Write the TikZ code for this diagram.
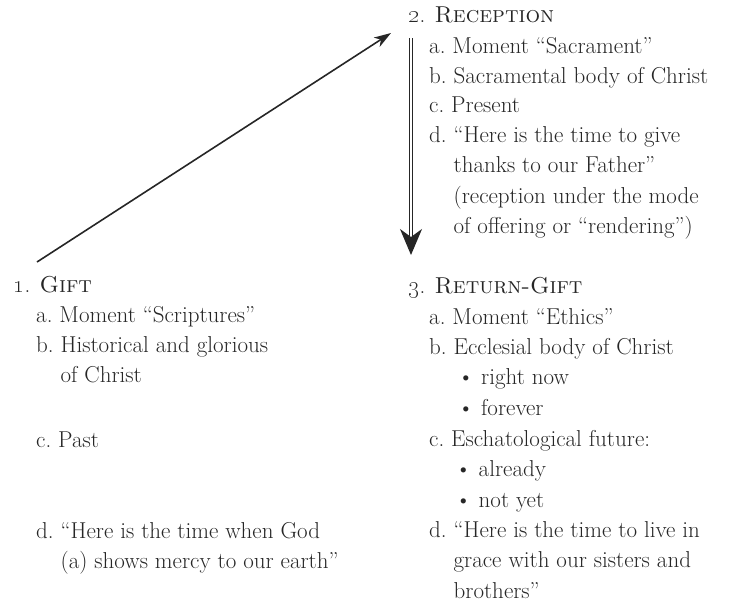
\documentclass[tikz,border=0pt]{standalone}
\usetikzlibrary{arrows.meta}
\definecolor{inkgray}{gray}{0.15}
\newcommand{\itm}[2]{#1~\begin{tabular}[t]{@{}l@{}}#2\end{tabular}}
\newcommand{\bul}{\hspace{4pt}\textbullet~}
\begin{document}
\begin{tikzpicture}[x=1pt, y=-1pt,
    txt/.style={anchor=base west, inner sep=0pt, text=inkgray,
      font=\fontsize{23}{30.5}\selectfont},
    flow/.style={draw=black!85, line width=1.6pt,
      -{Stealth[length=17pt, width=11pt, inset=5pt]}}]
  \useasboundingbox (0,0) rectangle (744,605);

  % -------- left: gift --------
  \node[txt] (gift)  at (13,292)  {\oldstylenums{1}. \textsc{Gift}};
  \node[txt] (giftA) at (36,322)  {\itm{a.}{Moment “Scriptures”}};
  \node[txt] (giftB) at (36,352)  {\itm{b.}{Historical and glorious\\of Christ}};
  \node[txt] (giftC) at (36,447)  {\itm{c.}{Past}};
  \node[txt] (giftD) at (36,538)  {\itm{d.}{“Here is the time when God\\(a) shows mercy to our earth”}};

  % -------- top right: reception --------
  \node[txt] (recep)  at (408,22)  {\oldstylenums{2}. \textsc{Reception}};
  \node[txt] (recepA) at (429,53)  {\itm{a.}{Moment “Sacrament”}};
  \node[txt] (recepB) at (429,83)  {\itm{b.}{Sacramental body of Christ}};
  \node[txt] (recepC) at (429,112) {\itm{c.}{Present}};
  \node[txt] (recepD) at (429,142) {\itm{d.}{“Here is the time to give\\thanks to our Father”\\(reception under the mode\\of offering or “rendering”)}};

  % -------- bottom right: return-gift --------
  \node[txt] (ret)  at (408,293) {\oldstylenums{3}. \textsc{Return-Gift}};
  \node[txt] (retA) at (429,324) {\itm{a.}{Moment “Ethics”}};
  \node[txt] (retB) at (429,354) {\itm{b.}{Ecclesial body of Christ\\\bul right now\\\bul forever}};
  \node[txt] (retC) at (429,446) {\itm{c.}{Eschatological future:\\\bul already\\\bul not yet}};
  \node[txt] (retD) at (429,537) {\itm{d.}{“Here is the time to live in\\grace with our sisters and\\brothers”}};

  % -------- arrows --------
  \coordinate (giftEnd)  at (37,262);
  \coordinate (recepTip) at (391,33);
  \coordinate (downTop)  at (411,38);
  \coordinate (downTip)  at (411,255);
  \draw[flow] (giftEnd) -- (recepTip);
  \draw[draw=black!85, double, double distance=2.4pt, line width=1.1pt,
    -{Stealth[length=26pt, width=22pt, inset=8pt]}] (downTop) -- (downTip);
\end{tikzpicture}
\end{document}
